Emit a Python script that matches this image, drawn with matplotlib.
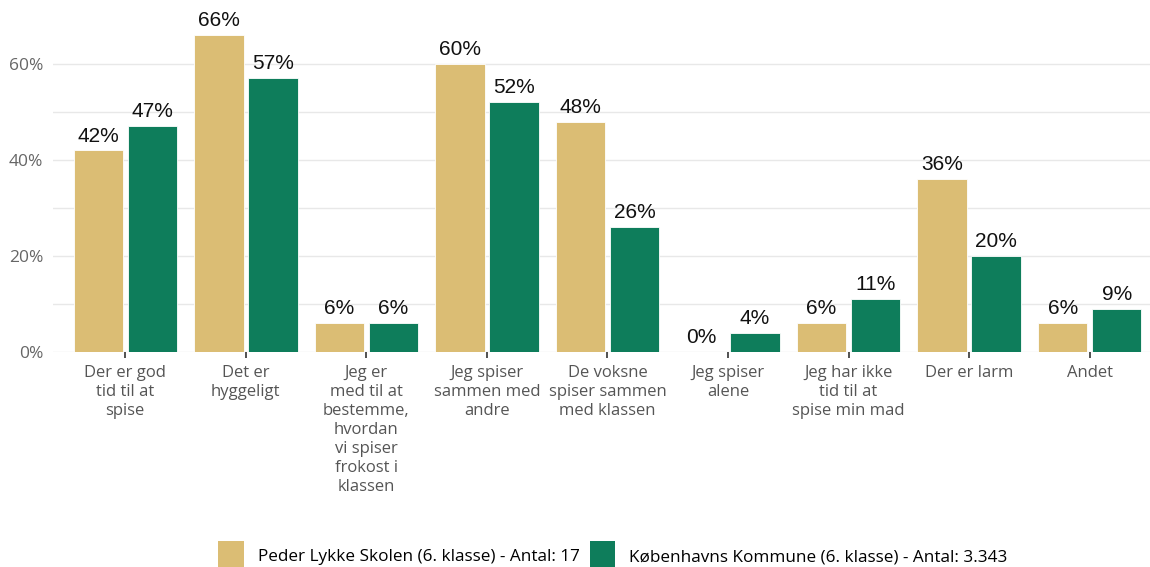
import numpy as np
import matplotlib.pyplot as plt
from matplotlib.patches import Patch
from matplotlib.ticker import FixedLocator

plt.rcParams.update({'font.family': ['Open Sans', 'DejaVu Sans']})

categories = ['Der er god\ntid til at\nspise', 'Det er\nhyggeligt',
              'Jeg er\nmed til at\nbestemme,\nhvordan\nvi spiser\nfrokost i\nklassen',
              'Jeg spiser\nsammen med\nandre', 'De voksne\nspiser sammen\nmed klassen',
              'Jeg spiser\nalene', 'Jeg har ikke\ntid til at\nspise min mad',
              'Der er larm', 'Andet']
skole = [42, 66, 6, 60, 48, 0, 6, 36, 6]
kommune = [47, 57, 6, 52, 26, 4, 11, 20, 9]
series_names = ['Peder Lykke Skolen (6. klasse) - Antal: 17',
                'Københavns Kommune (6. klasse) - Antal: 3.343']
colors = ['#DBBD74', '#0E7D5B']

fig = plt.figure(figsize=(11.5, 5.67), dpi=100)
ax = fig.add_axes([0.046, 0.379, 0.954, 0.593])

x = np.arange(len(categories))
w = 0.41
off = 0.224
for vals, dx, c in [(skole, -off, colors[0]), (kommune, off, colors[1])]:
    bars = ax.bar(x + dx, vals, width=w, color=c, edgecolor='white', linewidth=0.6, zorder=3)
    for b, v in zip(bars, vals):
        ax.annotate(f'{v}%', (b.get_x() + b.get_width() / 2, v), xytext=(0, 3.5),
                    textcoords='offset points', ha='center', va='bottom',
                    fontsize=15, color='#111111', family=['Liberation Sans', 'DejaVu Sans'])

ax.set_xlim(-0.6, 8.5)
ax.set_ylim(0, 70)
ax.set_xticks(x)
ax.set_xticklabels(categories, fontsize=12, color='#555555', linespacing=1.26)
ax.set_yticks([0, 20, 40, 60])
ax.set_yticklabels(['0%', '20%', '40%', '60%'], fontsize=12.5, color='#666666')
ax.yaxis.set_minor_locator(FixedLocator([10, 30, 50]))
ax.grid(axis='y', which='both', color='#e8e8e8', linewidth=1, zorder=0)
ax.tick_params(axis='y', length=0, pad=7, which='both')
ax.tick_params(axis='x', length=4, width=1.2, color='#333333', pad=5)
for s in ax.spines.values():
    s.set_visible(False)

handles = [Patch(facecolor=c) for c in colors]
fig.legend(handles, series_names, loc='lower center', bbox_to_anchor=(0.533, -0.035),
           ncol=2, frameon=False, fontsize=12.3, handlelength=1.5, handleheight=2.4,
           handletextpad=0.8, columnspacing=0.6)

fig.savefig('out.png', dpi=100)
